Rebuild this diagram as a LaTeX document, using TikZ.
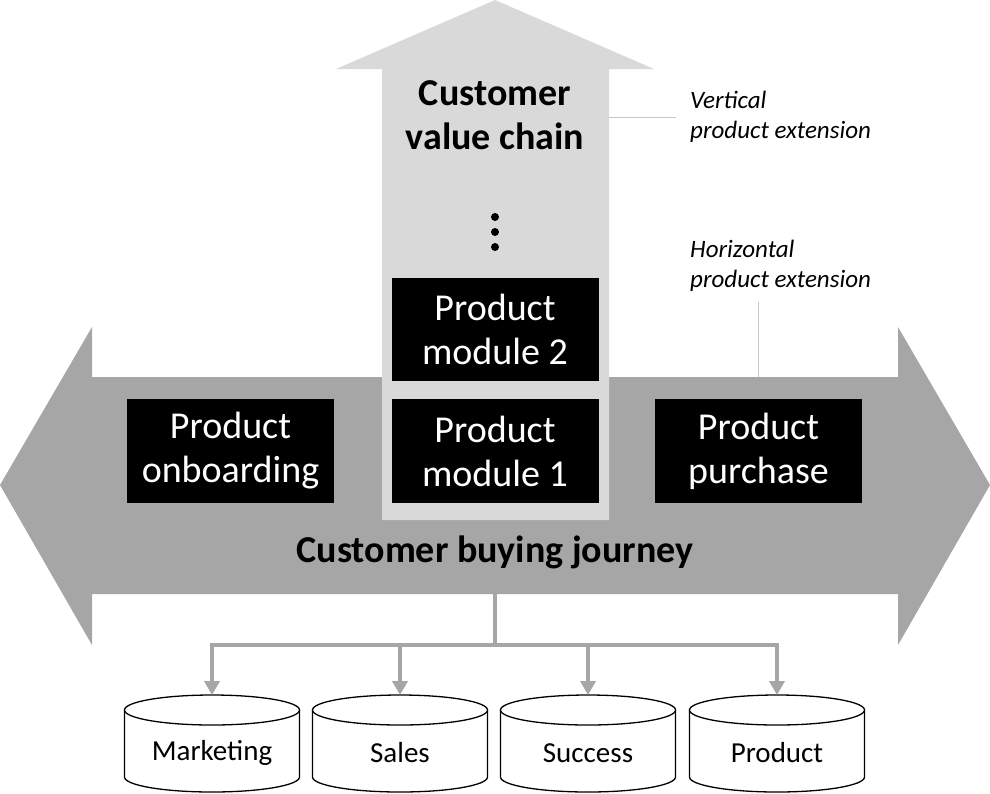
\documentclass[tikz,border=0pt]{standalone}
\usepackage{fontspec}
\setmainfont{Carlito}
\usetikzlibrary{arrows.meta}
\definecolor{hgray}{HTML}{A6A6A6}
\definecolor{vgray}{HTML}{D9D9D9}
\definecolor{lgray}{HTML}{C8C8C8}
\begin{document}
\begin{tikzpicture}[x=1pt,y=-1pt,
  blk/.style={fill=black,text=white,minimum width=207pt,minimum height=104pt,inner sep=0pt,align=center,font=\fontsize{38}{44}\selectfont},
  ttl/.style={align=center,font=\bfseries\fontsize{38}{44}\selectfont,inner sep=0pt},
  side/.style={align=left,anchor=west,font=\itshape\fontsize{25}{30}\selectfont,inner sep=0pt},
  dbtext/.style={inner sep=0pt,font=\fontsize{29}{32}\selectfont},
  dbline/.style={draw=black,line width=1.3pt,fill=white},
  conn/.style={draw=hgray,line width=4pt},
  connarr/.style={conn,-{Triangle[width=15pt,length=14pt]}},
  leader/.style={draw=lgray,line width=1pt}]
\useasboundingbox (0,0) rectangle (990,793);
% horizontal arrow
\fill[hgray] (0,485) -- (92,327) -- (92,377) -- (898,377) -- (898,327) -- (990,485) -- (898,645) -- (898,594) -- (92,594) -- (92,645) -- cycle;
% vertical arrow
\fill[vgray] (382,520) -- (382,69) -- (336,69) -- (495,0) -- (654,69) -- (609,69) -- (609,520) -- cycle;
% titles
\node[ttl] (vchain) at (495,115) {Customer\\value chain};
\node[ttl] (bjour) at (495,552) {Customer buying journey};
% dots
\fill (495,217) circle (4pt) (495,232) circle (4pt) (495,247) circle (4pt);
% boxes
\node[blk] (onb) at (230.5,451) {Product\\onboarding};
\node[blk] (m1) at (495,451) {Product\\module 1};
\node[blk,minimum height=103pt] (m2) at (495,329.5) {Product\\module 2};
\node[blk] (pur) at (758.5,451) {Product\\purchase};
% side labels
\node[side] (vext) at (690,116.5) {Vertical\\product extension};
\node[side] (hext) at (690,266) {Horizontal\\product extension};
\coordinate (vs) at (609,117);
\coordinate (ve) at (676,117);
\draw[leader] (vs) -- (ve);
\coordinate (hs) at (758,302);
\coordinate (he) at (758,377);
\draw[leader] (hs) -- (he);
% databases
\foreach \cx/\nm/\txt in {212/mkt/Marketing,400/sal/Sales,588/suc/Success,777/prd/Product}{
  \path[dbline] (\cx-87.5,710) -- (\cx-87.5,777) arc[start angle=180,end angle=0,x radius=87.5,y radius=15] -- (\cx+87.5,710) -- cycle;
  \path[dbline] (\cx,710) ellipse[x radius=87.5,y radius=15];
  \coordinate (\nm) at (\cx,695);
  \node[dbtext] (\nm txt) at (\cx,753) {\txt};
}
% connectors
\coordinate (hb) at (495,594);
\coordinate (sp) at (495,645);
\draw[conn] (hb) -- (sp);
\draw[connarr] (sp) -| (mkt);
\draw[connarr] (sp) -| (sal);
\draw[connarr] (sp) -| (suc);
\draw[connarr] (sp) -| (prd);
\end{tikzpicture}
\end{document}
